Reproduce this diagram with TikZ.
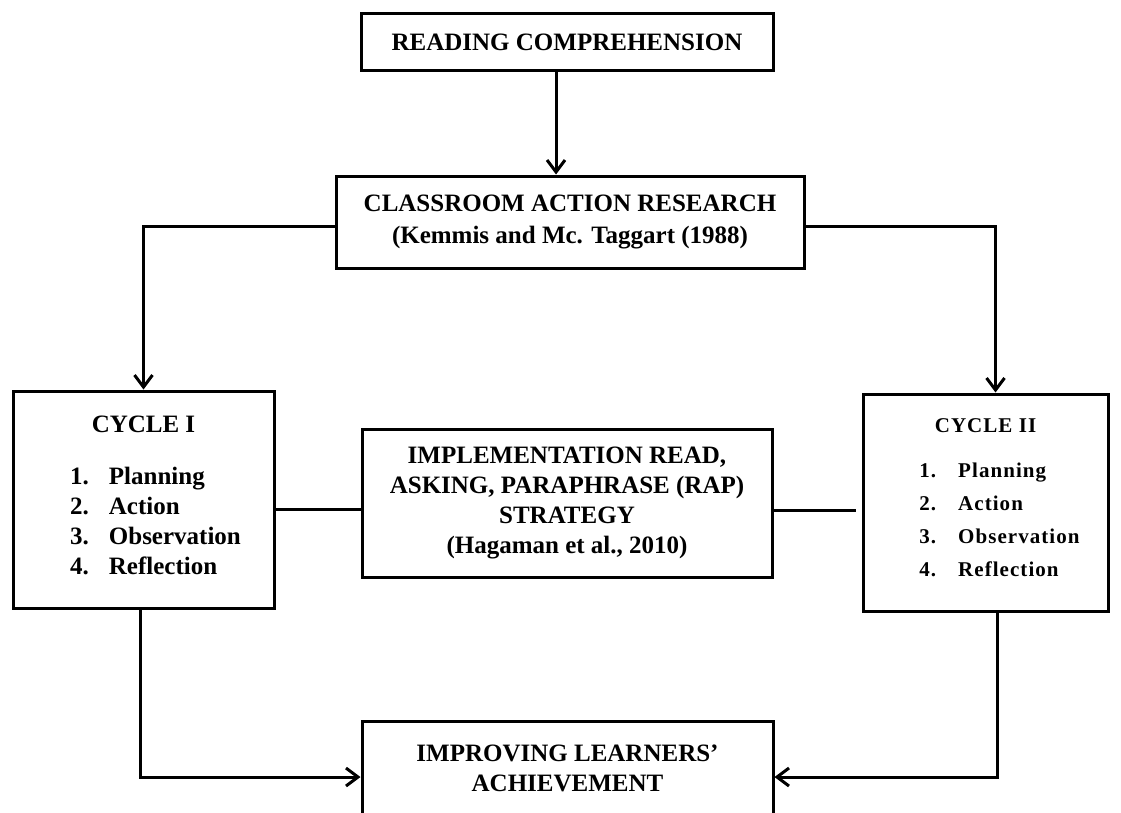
\documentclass[tikz,border=0pt]{standalone}
\usepackage{fontspec}
\setmainfont{Liberation Serif}
\newfontfamily\spacedserif[LetterSpace=5]{Liberation Serif}
\usetikzlibrary{arrows,arrows.meta}

\tikzset{
  box/.style={draw, line width=3pt, align=center, inner sep=0pt,
    font=\fontsize{25}{30}\selectfont\bfseries},
  link/.style={line width=3pt},
  arr/.style={line width=3pt, -{Straight Barb[length=12pt,width=18pt]}},
}

\begin{document}
\begin{tikzpicture}[x=1pt,y=-1pt]
        \useasboundingbox (0,0) rectangle (1121,812);
        \clip (0,0) rectangle (1121,812);

        \node[box, minimum width=412, minimum height=57] (reading) at (567,42) {READING COMPREHENSION};
        \node[box, minimum width=468, minimum height=92, font=\fontsize{25}{32}\selectfont\bfseries] (classroom) at (570,222)
            {CLASSROOM ACTION RESEARCH\\ (Kemmis and Mc. Taggart (1988)};

        \node[box, minimum width=261, minimum height=217] (cycleone) at (143.5,499.5)
            {CYCLE I\\[30pt]
             \hspace*{24pt}\begin{tabular}{@{}l@{\hspace{20pt}}l@{}}
             1. & Planning\\ 2. & Action\\ 3. & Observation\\ 4. & Reflection
             \end{tabular}};
        \node[box, minimum width=245, minimum height=217, font=\spacedserif\bfseries\fontsize{21}{33}\selectfont] (cycletwo) at (985.5,502.5)
            {CYCLE II\\[20pt]
             \hspace*{28pt}\begin{tabular}{@{}l@{\hspace{22pt}}l@{}}
             1. & Planning\\ 2. & Action\\ 3. & Observation\\ 4. & Reflection
             \end{tabular}};

        \node[box, minimum width=410, minimum height=148] (strategy) at (567,503)
            {IMPLEMENTATION READ,\\ ASKING, PARAPHRASE (RAP)\\ STRATEGY\\ (Hagaman et al., 2010)};
        \node[box, minimum width=411, minimum height=94] (improving) at (567.5,768)
            {IMPROVING LEARNERS'\\ ACHIEVEMENT};

        \draw[arr] ([xshift=-11]reading.south) -- ([xshift=-11]reading.south |- classroom.north);
        \draw[arr] ([yshift=-4]classroom.west) -| (cycleone.north);
        \draw[arr] ([yshift=-4]classroom.east) -| ([xshift=10]cycletwo.north);

        \draw[link] ([yshift=-10]cycleone.east) -- ([yshift=-10]cycleone.east -| strategy.west);
        \draw[link, shorten >=6pt] ([yshift=-7]strategy.east) -- ([yshift=-7]strategy.east -| cycletwo.west);

        \draw[arr] ([xshift=-3]cycleone.south) |- ([yshift=-9]improving.west);
        \draw[arr] ([xshift=12]cycletwo.south) |- ([yshift=-9]improving.east);
    \end{tikzpicture}
\end{document}
